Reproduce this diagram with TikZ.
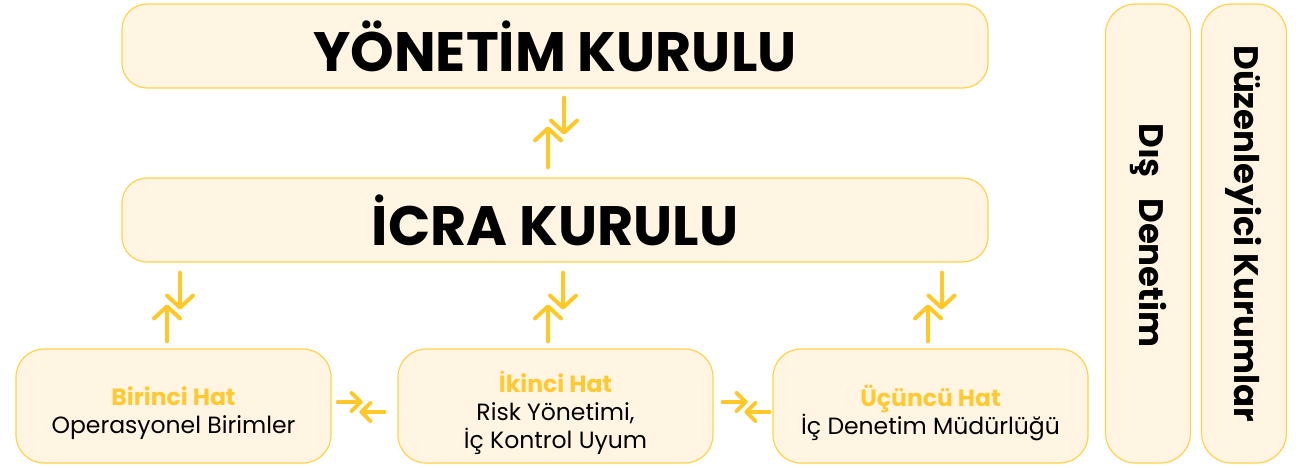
\documentclass[tikz,border=0pt]{standalone}
\usepackage{fontspec}
\setmainfont{Poppins}
\usetikzlibrary{arrows.meta}
\definecolor{boxfill}{HTML}{FFF5E2}
\definecolor{boxline}{HTML}{FFD24D}
\definecolor{arr}{HTML}{FFC829}
\definecolor{hat}{HTML}{FFC933}
\newcommand\hattl[1]{{\color{hat}\bfseries #1}}
\begin{document}
\begin{tikzpicture}[x=1pt,y=-1pt,
  box/.style={draw=boxline,fill=boxfill,line width=1.2pt,inner sep=0pt,align=center},
  bigbox/.style={box,rounded corners=25pt,minimum width=866pt,minimum height=84pt,font=\bfseries\fontsize{55.5}{60}\selectfont},
  hatbox/.style={box,rounded corners=28pt,minimum width=315pt,minimum height=114pt},
  hattext/.style={align=center,inner sep=0pt,font=\fontsize{23.5}{28}\selectfont},
  sidebox/.style={box,rounded corners=30pt,minimum width=85pt,minimum height=459pt},
  sidetext/.style={rotate=-90,font=\bfseries\fontsize{34}{36}\selectfont},
  vflow/.style={draw=arr,line width=4pt,line cap=round,-{Straight Barb[length=12pt,width=26pt,line cap=round,line join=round]}},
  hflow/.style={draw=arr,line width=4pt,line cap=round,-{Straight Barb[length=9pt,width=18pt,line cap=round,line join=round]}}
]
\useasboundingbox (0,0) rectangle (1303,468);
\node[bigbox] (yon) at (555,46) {YÖNETİM KURULU};
\node[bigbox] (icra) at (555,220) {İCRA KURULU};
\node[hatbox] (bir) at (173.5,406) {};
\node[hattext] (birtext) at ([yshift=-7pt]bir.center) {\hattl{Birinci Hat}\\Operasyonel Birimler};
\node[hatbox] (iki) at (555.5,406) {};
\node[hattext] (ikitext) at ([yshift=-7pt]iki.center) {\hattl{İkinci Hat}\\Risk Yönetimi,\\İç Kontrol Uyum};
\node[hatbox] (uc) at (930.5,406) {};
\node[hattext] (uctext) at ([yshift=-7pt]uc.center) {\hattl{Üçüncü Hat}\\İç Denetim Müdürlüğü};
\node[sidebox] (dis) at (1148,233.5) {};
\node[sidetext] (distext) at ([yshift=-2pt]dis.center) {Dış\hspace{0.6em}Denetim};
\node[sidebox] (duz) at (1244,233.5) {};
\node[sidetext] (duztext) at (duz.center) {Düzenleyici Kurumlar};
% yonetim <-> icra
\draw[vflow] ([xshift=-7pt,yshift=10pt]icra.north) -- ([xshift=-7pt,yshift=51pt]icra.north);
\draw[vflow] ([xshift=9pt,yshift=-9pt]yon.south) -- ([xshift=9pt,yshift=-46pt]yon.south);
% icra <-> hat
\draw[vflow] ([xshift=-6.5pt,yshift=7pt]bir.north) -- ([xshift=-6.5pt,yshift=44pt]bir.north);
\draw[vflow] ([xshift=6.5pt,yshift=-10pt]icra.south -| bir.north) -- ([xshift=6.5pt,yshift=-47pt]icra.south -| bir.north);
\draw[vflow] ([xshift=-7.5pt,yshift=7pt]iki.north) -- ([xshift=-7.5pt,yshift=44pt]iki.north);
\draw[vflow] ([xshift=7.5pt,yshift=-10pt]icra.south -| iki.north) -- ([xshift=7.5pt,yshift=-47pt]icra.south -| iki.north);
\draw[vflow] ([xshift=-2.5pt,yshift=7pt]uc.north) -- ([xshift=-2.5pt,yshift=44pt]uc.north);
\draw[vflow] ([xshift=11pt,yshift=-10pt]icra.south -| uc.north) -- ([xshift=11pt,yshift=-47pt]icra.south -| uc.north);
% horizontal
\draw[hflow] ([xshift=6pt,yshift=4pt]bir.east) -- ([xshift=31pt,yshift=4pt]bir.east);
\draw[hflow] ([xshift=-13pt,yshift=-6pt]iki.west) -- ([xshift=-38pt,yshift=-6pt]iki.west);
\draw[hflow] ([xshift=9pt,yshift=4pt]iki.east) -- ([xshift=34pt,yshift=4pt]iki.east);
\draw[hflow] ([xshift=-3pt,yshift=-6pt]uc.west) -- ([xshift=-28pt,yshift=-6pt]uc.west);
\end{tikzpicture}
\end{document}
